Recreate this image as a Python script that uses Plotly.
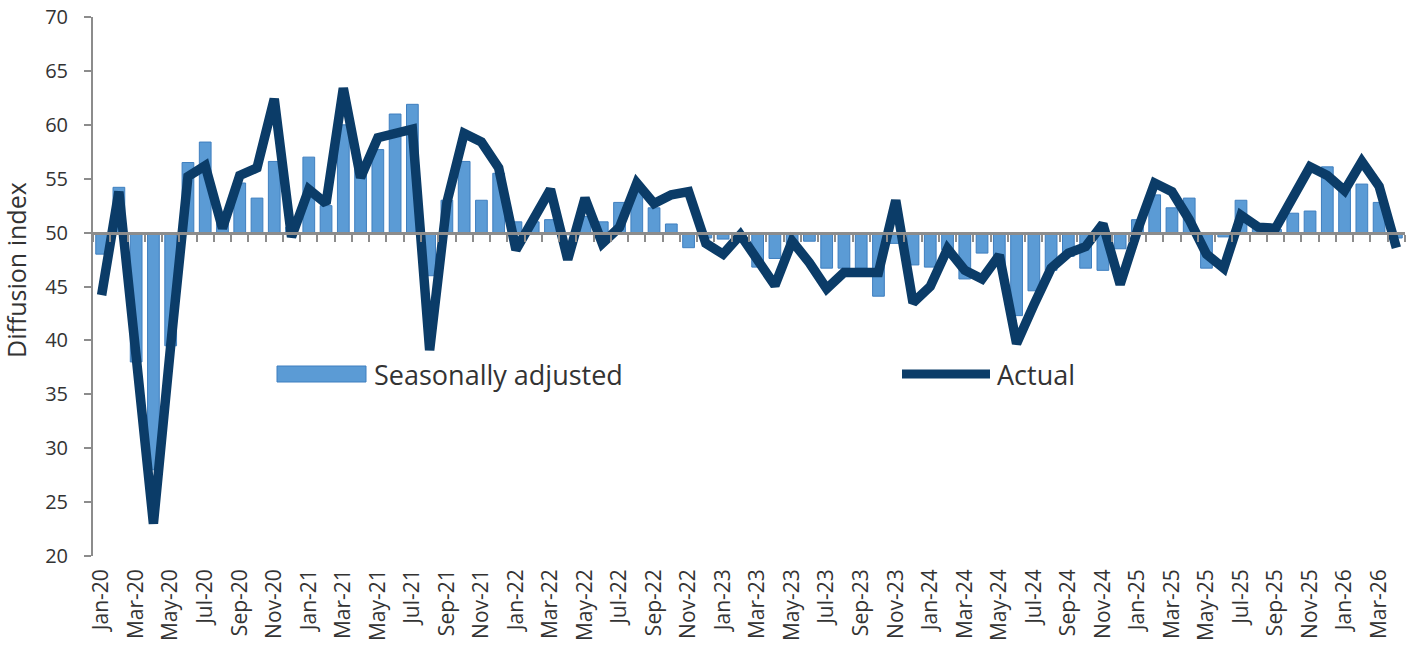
import plotly.graph_objects as go
import pandas as pd

# ---- data ----
months = [d.strftime("%b-%y") for d in pd.date_range("2020-01-01", "2026-04-01", freq="MS")]

actual = [44.2, 53.8, 38.5, 23.0, 39.5, 55.2, 56.2, 50.4, 55.3, 56.0, 62.4, 49.6,
          54.0, 52.7, 63.4, 55.1, 58.8, 59.2, 59.6, 39.1, 52.8, 59.2, 58.4, 56.0,
          48.4, 51.2, 54.0, 47.5, 53.2, 49.0, 50.5, 54.6, 52.7, 53.5, 53.8, 49.0,
          48.0, 49.8, 47.3, 45.1, 49.2, 47.2, 44.8, 46.3, 46.3, 46.3, 53.0, 43.5,
          45.0, 48.5, 46.5, 45.7, 47.9, 39.7, 43.3, 46.7, 48.1, 48.7, 50.8, 45.2,
          50.2, 54.6, 53.8, 51.2, 48.0, 46.7, 51.6, 50.5, 50.4, 53.2, 56.1, 55.3,
          53.9, 56.6, 54.3, 48.6]

seasonally_adjusted = [48.0, 54.2, 38.0, 28.0, 39.5, 56.5, 58.4, 51.0, 54.6, 53.2, 56.6, 50.5,
                       57.0, 52.5, 60.0, 56.0, 57.7, 61.0, 61.9, 46.0, 53.0, 56.6, 53.0, 55.5,
                       51.0, 51.0, 51.2, 49.8, 51.5, 51.0, 52.8, 54.0, 52.3, 50.8, 48.6, 49.5,
                       49.4, 49.5, 46.8, 47.6, 49.0, 49.2, 46.7, 46.7, 46.7, 44.1, 49.0, 47.0,
                       46.8, 48.4, 45.7, 48.1, 47.0, 42.3, 44.6, 46.5, 47.8, 46.7, 46.5, 48.5,
                       51.2, 53.5, 52.3, 53.2, 46.7, 49.6, 53.0, 50.5, 50.3, 51.8, 52.0, 56.1,
                       54.0, 54.5, 52.8, 49.5]

baseline = 50
y_ticks = list(range(20, 75, 5))

# ---- layout geometry (pixels) ----
W, H = 1406, 650
ML, MR, MT, MB = 93, 1, 17, 94
PW, PH = W - ML - MR, H - MT - MB

def px(x):
    return (x - ML) / PW

def py(y):
    return (H - MB - y) / PH

BAR_COLOR = "#5B9BD5"
BAR_EDGE = "#3F7FBF"
LINE_COLOR = "#0B3C68"
AXIS_GRAY = "#8C8C8C"
TEXT = "#333333"
FONT = "Open Sans"

fig = go.Figure()

fig.add_trace(go.Bar(
    x=months, y=[v - baseline for v in seasonally_adjusted], base=baseline,
    name="Seasonally adjusted",
    marker=dict(color=BAR_COLOR, line=dict(color=BAR_EDGE, width=1)),
    showlegend=False,
))

fig.add_trace(go.Scatter(
    x=months, y=actual, mode="lines", name="Actual",
    line=dict(color=LINE_COLOR, width=9.5, shape="linear"),
    showlegend=False,
))

# invisible trace to drive the category axis drawn at the 50 line
fig.add_trace(go.Scatter(
    x=months, y=[baseline] * len(months), xaxis="x2", mode="lines",
    line=dict(width=0), hoverinfo="skip", showlegend=False, opacity=0,
))

y0, y1 = 20, 70
fig.update_layout(
    width=W, height=H,
    margin=dict(l=ML, r=MR, t=MT, b=MB, autoexpand=False),
    paper_bgcolor="white", plot_bgcolor="white",
    bargap=0.32,
    font=dict(family=FONT, color=TEXT),
    xaxis=dict(
        type="category", categoryorder="array", categoryarray=months,
        range=[-0.5, len(months) - 0.5],
        tickmode="array", tickvals=months[::2], ticktext=months[::2],
        tickangle=-90, tickfont=dict(size=21, color=TEXT, family=FONT),
        showline=False, showgrid=False, zeroline=False, ticks="",
        ticklabelstandoff=8,
    ),
    xaxis2=dict(
        type="category", categoryorder="array", categoryarray=months,
        range=[-0.5, len(months) - 0.5],
        overlaying="x", anchor="free", position=(baseline - y0) / (y1 - y0), side="bottom",
        showline=True, linecolor=AXIS_GRAY, linewidth=3,
        ticks="outside", tickson="boundaries", ticklen=7, tickwidth=2, tickcolor=AXIS_GRAY,
        showticklabels=False, showgrid=False, zeroline=False,
    ),
    yaxis=dict(
        range=[y0, y1], tickmode="array", tickvals=y_ticks,
        tickfont=dict(size=20, color=TEXT, family=FONT),
        showline=True, linecolor=AXIS_GRAY, linewidth=2,
        ticks="outside", ticklen=7, tickwidth=2, tickcolor=AXIS_GRAY,
        ticklabelstandoff=12,
        showgrid=False, zeroline=False,
    ),
    showlegend=False,
)

# axis title
fig.add_annotation(
    text="Diffusion index", textangle=-90, xref="paper", yref="paper",
    x=px(16), y=py(270), showarrow=False, xanchor="center", yanchor="middle",
    font=dict(size=25, color=TEXT, family=FONT),
)

# custom legend
fig.add_shape(type="rect", xref="paper", yref="paper",
              x0=px(277), x1=px(366), y0=py(382), y1=py(366),
              fillcolor=BAR_COLOR, line=dict(color=BAR_EDGE, width=1))
fig.add_annotation(text="Seasonally adjusted", xref="paper", yref="paper",
                   x=px(372), y=py(374), xanchor="left", yanchor="middle", showarrow=False,
                   font=dict(size=27, color=TEXT, family=FONT))
fig.add_shape(type="line", xref="paper", yref="paper",
              x0=px(902), x1=px(990), y0=py(374), y1=py(374),
              line=dict(color=LINE_COLOR, width=9))
fig.add_annotation(text="Actual", xref="paper", yref="paper",
                   x=px(995), y=py(374), xanchor="left", yanchor="middle", showarrow=False,
                   font=dict(size=27, color=TEXT, family=FONT))

fig.write_html("out.html")
